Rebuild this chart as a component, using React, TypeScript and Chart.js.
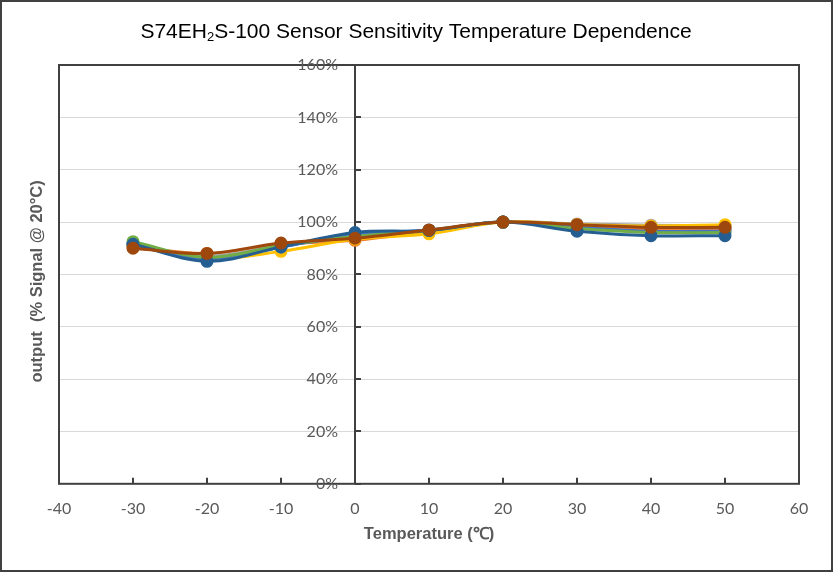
import { useEffect, useRef } from 'react'
import { Chart, registerables } from 'chart.js'

Chart.register(...registerables)

const temperatures = [-30, -20, -10, 0, 10, 20, 30, 40, 50]

const sensor1 = [91.5, 86.5, 90.5, 95.5, 97, 100, 98.5, 97.5, 97.5]
const sensor2 = [90.5, 88, 91.5, 93, 96.5, 100, 98.5, 97.5, 97.5]
const sensor3 = [91, 87, 91, 94.5, 96.8, 100, 99.3, 98.8, 98.5]
const sensor4 = [91, 86, 88.8, 93.5, 95.5, 100, 99, 98.5, 99]
const sensor5 = [91.5, 86, 90.5, 95, 96.8, 100, 98, 96.5, 96.5]
const sensor6 = [92.5, 86.5, 91, 94.5, 96.8, 100, 97.5, 96, 96]
const sensor7 = [91.5, 85, 90.5, 96, 96.8, 100, 96.5, 94.8, 94.8]
const sensor8 = [90, 88, 92, 93.8, 97, 100, 99, 98, 98]

const allSeries = [sensor1, sensor2, sensor3, sensor4, sensor5, sensor6, sensor7, sensor8]
const seriesNames = ['S1', 'S2', 'S3', 'S4', 'S5', 'S6', 'S7', 'S8']
const seriesColors = ['#5B9BD5', '#ED7D31', '#A5A5A5', '#FFC000', '#4472C4', '#70AD47', '#255E91', '#9E480E']

const titleText = ['S74EH', '2', 'S-100 Sensor Sensitivity Temperature Dependence']
const xTitle = 'Temperature (℃)'
const yTitle = 'output  (% Signal @ 20°C)'

const frame = {
  id: 'frame',
  beforeDraw(chart: Chart) {
    const { ctx, width, height } = chart
    ctx.save()
    ctx.fillStyle = '#ffffff'
    ctx.fillRect(0, 0, width, height)
    ctx.restore()
  },
  afterDraw(chart: Chart) {
    const { ctx, width, height, chartArea, scales } = chart
    const { left, right, top, bottom } = chartArea
    ctx.save()
    ctx.strokeStyle = '#404040'
    ctx.lineWidth = 2
    ctx.strokeRect(left, top, right - left, bottom - top)

    // tick marks: x inward, y to the right of the centre axis
    ctx.beginPath()
    scales.x.ticks.forEach((t) => {
      const px = Math.round(scales.x.getPixelForValue(t.value))
      ctx.moveTo(px, bottom)
      ctx.lineTo(px, bottom - 6)
    })
    const x0 = scales.x.getPixelForValue(0)
    scales.y.ticks.forEach((t) => {
      const py = Math.round(scales.y.getPixelForValue(t.value))
      ctx.moveTo(x0, py)
      ctx.lineTo(x0 + 6, py)
    })
    ctx.stroke()

    ctx.strokeRect(1, 1, width - 2, height - 2)

    // y tick labels, set off from the centre axis
    ctx.fillStyle = '#595959'
    ctx.font = '16px Lato, sans-serif'
    ctx.textAlign = 'right'
    ctx.textBaseline = 'middle'
    scales.y.ticks.forEach((t) => {
      ctx.fillText(`${t.value}%`, x0 - 17, scales.y.getPixelForValue(t.value))
    })

    // title with subscript
    ctx.fillStyle = '#000000'
    ctx.textBaseline = 'alphabetic'
    ctx.textAlign = 'left'
    const big = '21px "Liberation Sans", Arial, sans-serif'
    const small = '13px "Liberation Sans", Arial, sans-serif'
    ctx.font = big
    const w1 = ctx.measureText(titleText[0]).width
    const w3 = ctx.measureText(titleText[2]).width
    ctx.font = small
    const w2 = ctx.measureText(titleText[1]).width
    let tx = 416 - (w1 + w2 + w3) / 2
    const ty = 37.5
    ctx.font = big
    ctx.fillText(titleText[0], tx, ty)
    tx += w1
    ctx.font = small
    ctx.fillText(titleText[1], tx, ty + 3)
    tx += w2
    ctx.font = big
    ctx.fillText(titleText[2], tx, ty)

    // axis titles
    ctx.fillStyle = '#595959'
    ctx.font = 'bold 16.5px "Liberation Sans", Arial, sans-serif'
    ctx.textAlign = 'center'
    ctx.textBaseline = 'middle'
    ctx.fillText(xTitle, (left + right) / 2, 534)
    ctx.translate(37, (top + bottom) / 2 + 7)
    ctx.rotate(-Math.PI / 2)
    ctx.fillText(yTitle, 0, 0)
    ctx.restore()
  },
}

export default function App() {
  const canvasRef = useRef<HTMLCanvasElement | null>(null)

  useEffect(() => {
    if (!canvasRef.current) return
    document.body.style.margin = '0'

    const chart = new Chart(canvasRef.current, {
      type: 'line',
      data: {
        datasets: allSeries.map((values, i) => ({
          label: seriesNames[i],
          data: temperatures.map((t, j) => ({ x: t, y: values[j] })),
          borderColor: seriesColors[i],
          backgroundColor: seriesColors[i],
          pointBackgroundColor: seriesColors[i],
          pointBorderColor: seriesColors[i],
          borderWidth: 3,
          pointRadius: 5,
          tension: 0.35,
          order: allSeries.length - i,
        })),
      },
      options: {
        responsive: false,
        animation: false,
        layout: { padding: { left: 59, right: 34, top: 65, bottom: 47 } },
        plugins: {
          legend: { display: false },
          tooltip: { enabled: false },
          title: { display: false },
        },
        scales: {
          x: {
            type: 'linear',
            min: -40,
            max: 60,
            grid: { display: false },
            border: { display: false },
            ticks: {
              stepSize: 10,
              padding: 7,
              color: '#595959',
              font: { family: 'Lato', size: 16 },
            },
          },
          y: {
            position: { x: 0 },
            min: 0,
            max: 160,
            grid: { color: '#d9d9d9', lineWidth: 1, drawTicks: false },
            border: { display: true, color: '#404040', width: 2 },
            ticks: { stepSize: 20, display: false },
          },
        },
      },
      plugins: [frame],
    })

    return () => {
      chart.destroy()
    }
  }, [])

  return (
    <div style={{ position: 'absolute', left: 0, top: 0, width: 833, height: 572 }}>
      <canvas ref={canvasRef} width={833} height={572} style={{ display: 'block' }} />
    </div>
  )
}
